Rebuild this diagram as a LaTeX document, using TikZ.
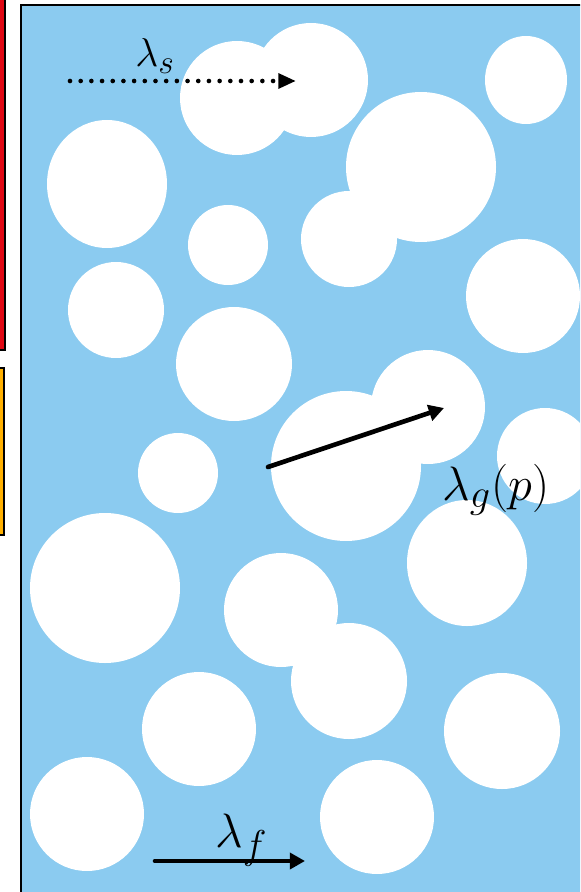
\documentclass[tikz,border=0pt]{standalone}
\usetikzlibrary{arrows.meta}
\definecolor{bgblue}{RGB}{139,203,240}
\definecolor{barred}{RGB}{224,8,20}
\definecolor{barorange}{RGB}{255,176,0}
\begin{document}
\begin{tikzpicture}[x=0.025cm,y=-0.025cm,
  frame/.style={draw=black,line width=1.8pt},
  arr/.style={line width=3.3pt, line cap=round, -{Triangle[length=3.8mm,width=4mm]}},
  dotarr/.style={line width=3.3pt, line cap=round, dash pattern=on 0pt off 7.6pt, -{Triangle[length=4.4mm,width=3.6mm]}},
  lbl/.style={inner sep=0pt, anchor=base west, font=\fontsize{24.88}{30}\selectfont, scale=1.38},
  lblsmall/.style={inner sep=0pt, anchor=base west, font=\fontsize{24.88}{30}\selectfont, scale=1.15}]
\useasboundingbox (0,0) rectangle (580,892);
\clip (0,0) rectangle (580,892);
\fill[white] (0,0) rectangle (580,892);
% side bars
\draw[frame, fill=barred] (-20,-10) rectangle (5,350);
\draw[frame, fill=barorange] (-20,368) rectangle (4,535);
% main domain
\fill[bgblue] (21,5) rectangle (600,910);
% pores
\foreach \cx/\cy/\rx/\ry in {
  237/98/57/57, 311/80/57/57, 526/80/41/44, 107/184/60/64,
  421/167/75/75, 349/239/48/48, 228/245/40/40, 116/310/48/48,
  523/296/57/57, 234/364/58/57, 428/407/57/57, 346/466/75/75,
  545/456/48/48, 178/473/40/40, 467/563/60/63, 105/588/75/75,
  281/610/57/57, 349/681/58/58, 199/729/57/57, 502/731/58/58,
  87/814/57/57, 377/817/57/57}
  \fill[white] (\cx,\cy) ellipse [x radius=\rx, y radius=\ry];
\draw[frame] (21,5) rectangle (600,910);
% arrows
\coordinate (s0) at (70,81);
\coordinate (s1) at (296,81);
\coordinate (g0) at (268,467);
\coordinate (g1) at (444,408);
\coordinate (f0) at (155,861);
\coordinate (f1) at (305,861);
\draw[dotarr] (s0) -- (s1);
\draw[arr] (g0) -- (g1);
\draw[arr] (f0) -- (f1);
% labels
\node[lblsmall] (ls) at (135,67) {$\lambda_s$};
\node[lbl] (lg) at (442,500) {$\lambda_g(p)$};
\node[lbl] (lf) at (215,847) {$\lambda_f$};
\end{tikzpicture}
\end{document}
